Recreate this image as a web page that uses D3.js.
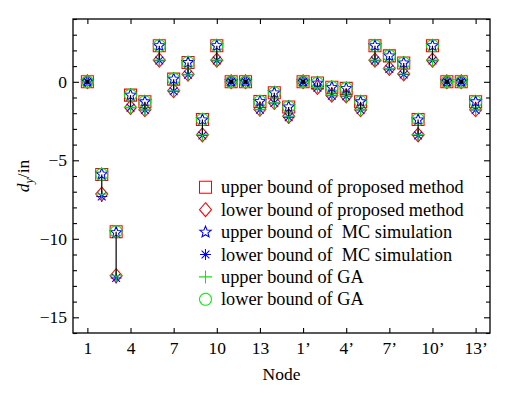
<!DOCTYPE html>
<html>
<head>
<meta charset="utf-8">
<script src="https://cdn.jsdelivr.net/npm/d3@7"></script>
<style>
  body { margin: 0; background: #fff; }
  text { font-family: "Liberation Serif", "Times New Roman", serif; fill: #000; }
</style>
</head>
<body>
<svg id="canvas" width="514" height="393"></svg>
<script>
const NODES = ['1','2','3','4','5','6','7','8','9','10','11','12','13','14','15',
               '1’','2’','3’','4’','5’','6’','7’','8’','9’','10’','11’','12’','13’']
const TICK_NODES = ['1','4','7','10','13','1’','4’','7’','10’','13’']
const Y_TICKS = [-15, -10, -5, 0]

const UPPER_PROPOSED = [0, -5.9, -9.55, -0.85, -1.27, 2.3, 0.17, 1.23, -2.4, 2.3, 0, 0, -1.25, -0.7, -1.6,
                        0, -0.08, -0.35, -0.42, -1.27, 2.3, 1.65, 1.2, -2.4, 2.3, 0, 0, -1.27]
const LOWER_PROPOSED = [0, -7.15, -12.35, -1.63, -1.78, 1.38, -0.57, 0.48, -3.38, 1.38, 0, 0, -1.75, -1.32, -2.2,
                        0, -0.36, -0.85, -0.9, -1.78, 1.38, 0.85, 0.5, -3.38, 1.38, 0, 0, -1.78]
const UPPER_MC = [0, -5.88, -9.6, -0.85, -1.27, 2.3, 0.17, 1.23, -2.42, 2.3, 0, 0, -1.25, -0.7, -1.6,
                  0, -0.08, -0.35, -0.42, -1.27, 2.3, 1.65, 1.2, -2.42, 2.3, 0, 0, -1.27]
const LOWER_MC = [0, -7.3, -12.5, -1.65, -1.8, 1.35, -0.6, 0.45, -3.42, 1.35, 0, 0, -1.78, -1.35, -2.25,
                  0, -0.38, -0.88, -0.92, -1.8, 1.35, 0.82, 0.47, -3.42, 1.35, 0, 0, -1.8]
// GA markers as they sit in the picture: crosses at the lower end, circles at the upper end
const UPPER_GA = [0, -7.15, -12.35, -1.63, -1.78, 1.38, -0.57, 0.48, -3.38, 1.38, 0, 0, -1.75, -1.32, -2.2,
                  0, -0.36, -0.85, -0.9, -1.78, 1.38, 0.85, 0.5, -3.38, 1.38, 0, 0, -1.78]
const LOWER_GA = [0, -5.9, -9.55, -0.85, -1.27, 2.3, 0.17, 1.23, -2.4, 2.3, 0, 0, -1.25, -0.7, -1.6,
                  0, -0.08, -0.35, -0.42, -1.27, 2.3, 1.65, 1.2, -2.4, 2.3, 0, 0, -1.27]

const LEGEND = ['upper bound of proposed method', 'lower bound of proposed method',
                'upper bound of  MC simulation', 'lower bound of  MC simulation',
                'upper bound of GA', 'lower bound of GA']

let canvas = d3.select('#canvas')

let plotLeft = 73, plotRight = 490, plotTop = 19, plotBottom = 333

let xScale = d3.scaleLinear().domain([-1, 28]).range([plotLeft, plotRight])
let yScale = d3.scaleLinear().domain([-16, 4]).range([plotBottom, plotTop])

// marker shapes, centred on 0,0
let squarePath = () => 'M-6,-6H6V6H-6Z'
let diamondPath = () => 'M0,-7L6,0L0,7L-6,0Z'
let starPath = () => {
    let pts = []
    for (let i = 0; i < 10; i++) {
        let r = i % 2 === 0 ? 6 : 2.6
        let a = -Math.PI / 2 + i * Math.PI / 5
        pts.push([r * Math.cos(a), r * Math.sin(a)])
    }
    return 'M' + pts.map(p => p.join(',')).join('L') + 'Z'
}
let asteriskPath = () => {
    let s = ''
    for (let i = 0; i < 4; i++) {
        let a = i * Math.PI / 4
        let dx = 5.5 * Math.cos(a), dy = 5.5 * Math.sin(a)
        s += 'M' + (-dx) + ',' + (-dy) + 'L' + dx + ',' + dy
    }
    return s
}
let plusPath = () => 'M-6.5,0H6.5M0,-6.5V6.5'
let circlePath = () => 'M6,0A6,6 0 1,1 -6,0A6,6 0 1,1 6,0Z'

const SERIES = [
    {values: UPPER_PROPOSED, path: squarePath, color: '#ff0000'},
    {values: LOWER_PROPOSED, path: diamondPath, color: '#ff0000'},
    {values: UPPER_MC, path: starPath, color: '#0000ff'},
    {values: LOWER_MC, path: asteriskPath, color: '#0000ff'},
    {values: UPPER_GA, path: plusPath, color: '#00ee00'},
    {values: LOWER_GA, path: circlePath, color: '#00ee00'}
]

let drawAxes = () => {
    let tickIdx = TICK_NODES.map(t => NODES.indexOf(t))

    let xBottom = d3.axisBottom(xScale)
        .tickValues(tickIdx)
        .tickFormat((d, i) => TICK_NODES[i])
        .tickSizeInner(-5).tickSizeOuter(0).tickPadding(9)
    canvas.append('g').attr('transform', 'translate(0,' + plotBottom + ')').call(xBottom)

    let xTop = d3.axisTop(xScale).tickValues(tickIdx).tickFormat('')
        .tickSizeInner(-5).tickSizeOuter(0)
    canvas.append('g').attr('transform', 'translate(0,' + plotTop + ')').call(xTop)

    let minor = d3.range(-16, 5).filter(v => Y_TICKS.indexOf(v) < 0)
    let yLeftMinor = d3.axisLeft(yScale).tickValues(minor).tickFormat('')
        .tickSizeInner(-4).tickSizeOuter(0)
    let yLeft = d3.axisLeft(yScale).tickValues(Y_TICKS)
        .tickSizeInner(-6).tickSizeOuter(0).tickPadding(6)
    let yRightMinor = d3.axisRight(yScale).tickValues(minor).tickFormat('')
        .tickSizeInner(-4).tickSizeOuter(0)
    let yRight = d3.axisRight(yScale).tickValues(Y_TICKS).tickFormat('')
        .tickSizeInner(-6).tickSizeOuter(0)

    let gy = canvas.append('g').attr('transform', 'translate(' + plotLeft + ',0)')
    gy.append('g').call(yLeftMinor)
    gy.append('g').call(yLeft)
    let gyr = canvas.append('g').attr('transform', 'translate(' + plotRight + ',0)')
    gyr.append('g').call(yRightMinor)
    gyr.append('g').call(yRight)

    canvas.selectAll('.domain').remove()
    canvas.selectAll('.tick line').attr('stroke', '#000').attr('stroke-width', 1.1)
    canvas.selectAll('.tick text')
        .style('font-family', '"Liberation Serif", serif')
        .style('font-size', '17.5px')
        .attr('fill', '#000')

    canvas.append('rect')
        .attr('x', plotLeft).attr('y', plotTop)
        .attr('width', plotRight - plotLeft).attr('height', plotBottom - plotTop)
        .attr('fill', 'none').attr('stroke', '#000').attr('stroke-width', 1.3)

    canvas.append('text')
        .attr('x', (plotLeft + plotRight) / 2).attr('y', 380)
        .attr('text-anchor', 'middle')
        .style('font-size', '17.5px')
        .text('Node')

    let yl = canvas.append('text')
        .attr('transform', 'translate(29,' + ((plotTop + plotBottom) / 2) + ') rotate(-90)')
        .attr('text-anchor', 'middle')
        .style('font-size', '17.5px')
    yl.append('tspan').style('font-style', 'italic').text('d')
    yl.append('tspan').style('font-style', 'italic').style('font-size', '12px').attr('dy', 4).text('y')
    yl.append('tspan').attr('dy', -4).text('/in')
}

let drawMarkers = () => {
    SERIES.forEach(s => {
        canvas.append('g').selectAll('path')
            .data(s.values)
            .enter()
            .append('path')
            .attr('transform', (v, i) => 'translate(' + xScale(i) + ',' + yScale(v) + ')')
            .attr('d', s.path())
            .attr('fill', 'none')
            .attr('stroke', s.color)
            .attr('stroke-width', 1.05)
    })

    let idx = d3.range(NODES.length)
    canvas.append('g').selectAll('line')
        .data(idx.filter(i => UPPER_PROPOSED[i] !== LOWER_PROPOSED[i]))
        .enter()
        .append('line')
        .attr('x1', i => xScale(i)).attr('x2', i => xScale(i))
        .attr('y1', i => yScale(UPPER_PROPOSED[i]))
        .attr('y2', i => yScale(LOWER_PROPOSED[i]))
        .attr('stroke', '#000').attr('stroke-width', 1.2)

    canvas.append('g').selectAll('rect')
        .data(idx.filter(i => UPPER_PROPOSED[i] === LOWER_PROPOSED[i]))
        .enter()
        .append('rect')
        .attr('x', i => xScale(i) - 2).attr('y', i => yScale(UPPER_PROPOSED[i]) - 2)
        .attr('width', 4).attr('height', 4)
        .attr('fill', '#000')
}

let drawLegend = () => {
    let rows = canvas.append('g').selectAll('g')
        .data(SERIES)
        .enter()
        .append('g')
        .attr('transform', (s, i) => 'translate(205.5,' + (187.3 + i * 22.4) + ')')

    rows.append('path')
        .attr('d', s => s.path())
        .attr('fill', 'none')
        .attr('stroke', s => s.color)
        .attr('stroke-width', 1.05)

    rows.append('text')
        .attr('x', 15.5).attr('y', 6)
        .style('font-size', '18.3px')
        .style('white-space', 'pre')
        .text((s, i) => LEGEND[i])
}

drawAxes()
drawMarkers()
drawLegend()
</script>
</body>
</html>
